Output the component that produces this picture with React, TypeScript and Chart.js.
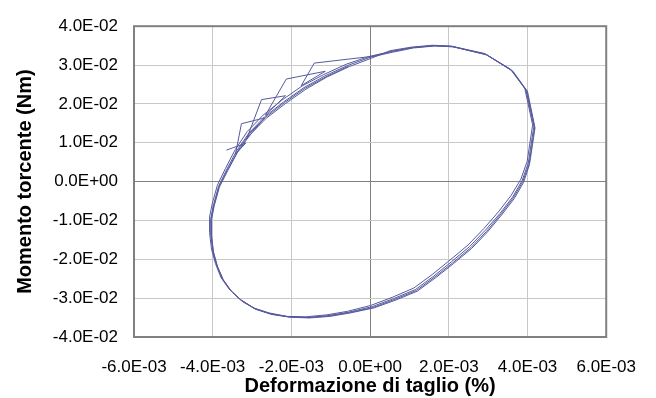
import React, { useEffect, useRef } from 'react';
import { Chart, registerables } from 'chart.js';

Chart.register(...registerables);

// Axis ranges / ticks
const xTicks = { min: -6.0e-3, max: 6.0e-3, step: 2.0e-3 };
const yTicks = { min: -4.0e-2, max: 4.0e-2, step: 1.0e-2 };

// Initial (irregular) part of the record
const startX = [-3.65e-3, -3.16e-3, -3.42e-3, -3.27e-3, -2.68e-3, -3.14e-3, -2.76e-3, -2.15e-3, -2.66e-3, -2.13e-3, -1.14e-3, -1.75e-3, -1.42e-3, 0.02e-3];
const startY = [0.81e-2, 0.99e-2, 0.71e-2, 1.49e-2, 1.64e-2, 1.09e-2, 2.11e-2, 2.21e-2, 1.71e-2, 2.64e-2, 2.84e-2, 2.47e-2, 3.05e-2, 3.22e-2];

// Cycle 1
const loop1X = [0.54e-3, 1.07e-3, 1.62e-3, 2.08e-3, 2.93e-3, 3.59e-3, 3.96e-3, 4.16e-3, 4.02e-3, 3.86e-3, 3.62e-3, 3.30e-3, 2.93e-3, 2.53e-3, 2.07e-3, 1.62e-3, 1.15e-3, 0.60e-3, 0.05e-3, -0.54e-3, -1.07e-3, -1.59e-3, -2.08e-3, -2.53e-3, -2.93e-3, -3.27e-3, -3.55e-3, -3.76e-3, -3.90e-3, -4.00e-3, -4.05e-3, -4.05e-3, -3.98e-3, -3.85e-3, -3.65e-3, -3.40e-3, -3.08e-3, -2.68e-3, -2.20e-3, -1.68e-3, -1.15e-3, -0.57e-3, 0.00e-3];
const loop1Y = [3.35e-2, 3.45e-2, 3.50e-2, 3.48e-2, 3.28e-2, 2.87e-2, 2.36e-2, 1.42e-2, 0.48e-2, 0.02e-2, -0.40e-2, -0.82e-2, -1.25e-2, -1.67e-2, -2.06e-2, -2.43e-2, -2.78e-2, -3.01e-2, -3.22e-2, -3.36e-2, -3.45e-2, -3.50e-2, -3.48e-2, -3.40e-2, -3.27e-2, -3.06e-2, -2.80e-2, -2.50e-2, -2.15e-2, -1.78e-2, -1.35e-2, -0.95e-2, -0.60e-2, -0.12e-2, 0.30e-2, 0.78e-2, 1.25e-2, 1.67e-2, 2.05e-2, 2.42e-2, 2.72e-2, 2.99e-2, 3.20e-2];

// Cycle 2
const loop2X = [0.57e-3, 1.10e-3, 1.65e-3, 2.12e-3, 2.97e-3, 3.63e-3, 4.00e-3, 4.19e-3, 4.05e-3, 3.90e-3, 3.66e-3, 3.34e-3, 2.98e-3, 2.58e-3, 2.12e-3, 1.67e-3, 1.20e-3, 0.65e-3, 0.10e-3, -0.50e-3, -1.03e-3, -1.55e-3, -2.04e-3, -2.50e-3, -2.90e-3, -3.24e-3, -3.52e-3, -3.73e-3, -3.88e-3, -3.98e-3, -4.03e-3, -4.03e-3, -3.96e-3, -3.83e-3, -3.62e-3, -3.37e-3, -3.04e-3, -2.64e-3, -2.15e-3, -1.63e-3, -1.10e-3, -0.53e-3, 0.04e-3];
const loop2Y = [3.33e-2, 3.44e-2, 3.49e-2, 3.47e-2, 3.26e-2, 2.84e-2, 2.32e-2, 1.38e-2, 0.44e-2, -0.02e-2, -0.44e-2, -0.86e-2, -1.30e-2, -1.72e-2, -2.11e-2, -2.47e-2, -2.82e-2, -3.05e-2, -3.25e-2, -3.38e-2, -3.47e-2, -3.51e-2, -3.49e-2, -3.42e-2, -3.29e-2, -3.09e-2, -2.83e-2, -2.53e-2, -2.18e-2, -1.81e-2, -1.38e-2, -0.98e-2, -0.62e-2, -0.14e-2, 0.28e-2, 0.75e-2, 1.22e-2, 1.63e-2, 2.01e-2, 2.38e-2, 2.69e-2, 2.96e-2, 3.18e-2];

// Cycle 3
const loop3X = [0.51e-3, 1.04e-3, 1.58e-3, 2.05e-3, 2.90e-3, 3.56e-3, 3.93e-3, 4.13e-3, 3.99e-3, 3.83e-3, 3.58e-3, 3.26e-3, 2.89e-3, 2.49e-3, 2.03e-3, 1.58e-3, 1.11e-3, 0.56e-3, 0.01e-3, -0.58e-3, -1.10e-3, -1.63e-3, -2.11e-3, -2.57e-3, -2.96e-3, -3.30e-3, -3.58e-3, -3.79e-3, -3.93e-3, -4.03e-3, -4.08e-3, -4.08e-3, -4.01e-3, -3.88e-3, -3.68e-3, -3.43e-3, -3.12e-3, -2.72e-3, -2.25e-3, -1.73e-3, -1.19e-3, -0.61e-3, -0.03e-3];
const loop3Y = [3.37e-2, 3.46e-2, 3.51e-2, 3.49e-2, 3.30e-2, 2.90e-2, 2.40e-2, 1.46e-2, 0.52e-2, 0.06e-2, -0.36e-2, -0.78e-2, -1.21e-2, -1.63e-2, -2.02e-2, -2.39e-2, -2.74e-2, -2.98e-2, -3.19e-2, -3.34e-2, -3.43e-2, -3.48e-2, -3.47e-2, -3.38e-2, -3.25e-2, -3.03e-2, -2.77e-2, -2.47e-2, -2.11e-2, -1.74e-2, -1.31e-2, -0.91e-2, -0.56e-2, -0.09e-2, 0.33e-2, 0.82e-2, 1.29e-2, 1.71e-2, 2.09e-2, 2.46e-2, 2.75e-2, 3.02e-2, 3.22e-2];

// Cycle 4
const loop4X = [0.55e-3, 1.08e-3, 1.63e-3, 2.10e-3, 2.95e-3, 3.61e-3, 3.98e-3, 4.18e-3, 4.04e-3, 3.88e-3, 3.64e-3, 3.32e-3, 2.96e-3, 2.56e-3, 2.10e-3, 1.65e-3, 1.18e-3, 0.63e-3, 0.08e-3, -0.52e-3, -1.05e-3, -1.57e-3, -2.06e-3, -2.51e-3, -2.91e-3, -3.25e-3, -3.53e-3, -3.74e-3, -3.89e-3, -3.99e-3, -4.04e-3, -4.04e-3, -3.97e-3, -3.84e-3, -3.63e-3, -3.38e-3, -3.06e-3, -2.66e-3, -2.18e-3, -1.66e-3, -1.12e-3, -0.55e-3];
const loop4Y = [3.35e-2, 3.45e-2, 3.50e-2, 3.47e-2, 3.27e-2, 2.85e-2, 2.34e-2, 1.40e-2, 0.46e-2, 0.00e-2, -0.42e-2, -0.84e-2, -1.28e-2, -1.70e-2, -2.09e-2, -2.45e-2, -2.80e-2, -3.03e-2, -3.24e-2, -3.37e-2, -3.46e-2, -3.50e-2, -3.48e-2, -3.41e-2, -3.28e-2, -3.08e-2, -2.82e-2, -2.52e-2, -2.17e-2, -1.80e-2, -1.37e-2, -0.97e-2, -0.61e-2, -0.13e-2, 0.29e-2, 0.76e-2, 1.24e-2, 1.65e-2, 2.03e-2, 2.40e-2, 2.70e-2, 2.97e-2];

const xTitle = 'Deformazione di taglio (%)';
const yTitle = 'Momento torcente (Nm)';

const FONT = "'Liberation Sans', Arial, Helvetica, sans-serif";

function fmtExp(v: number): string {
  if (Math.abs(v) < 1e-12) return '0.0E+00';
  let e = Math.floor(Math.log10(Math.abs(v)) + 1e-9);
  let m = v / Math.pow(10, e);
  if (Math.abs(Math.round(m * 10) / 10) >= 10) { e += 1; m = v / Math.pow(10, e); }
  return m.toFixed(1) + 'E' + (e < 0 ? '-' : '+') + String(Math.abs(e)).padStart(2, '0');
}

const framePlugin = {
  id: 'frame',
  afterDatasetsDraw(chart: any) {
    const { ctx, chartArea } = chart;
    const { left, top, right, bottom } = chartArea;
    ctx.save();
    ctx.strokeStyle = '#808080';
    ctx.lineWidth = 2;
    ctx.strokeRect(left, top, right - left, bottom - top);
    ctx.restore();
  },
};

export default function App() {
  const ref = useRef<HTMLCanvasElement | null>(null);

  useEffect(() => {
    if (!ref.current) return;
    const xs = [...startX, ...loop1X, ...loop2X, ...loop3X, ...loop4X];
    const ys = [...startY, ...loop1Y, ...loop2Y, ...loop3Y, ...loop4Y];
    const points = xs.map((x, i) => ({ x, y: ys[i] }));

    const gridColor = (c: any) =>
      c.tick && Math.abs(c.tick.value) < 1e-9 ? '#808080' : '#c8c8c8';

    const chart = new Chart(ref.current, {
      type: 'scatter',
      data: {
        datasets: [
          {
            data: points,
            showLine: true,
            borderColor: '#565a9e',
            borderWidth: 1,
            pointRadius: 0,
            tension: 0,
            fill: false,
          },
        ],
      },
      options: {
        animation: false,
        responsive: false,
        events: [],
        layout: { padding: { top: 18, right: 48, left: 0, bottom: 0 } },
        plugins: {
          legend: { display: false },
          tooltip: { enabled: false },
        },
        scales: {
          x: {
            type: 'linear',
            min: xTicks.min,
            max: xTicks.max,
            afterFit: (s: any) => { s.height = 61; },
            ticks: {
              stepSize: xTicks.step,
              autoSkip: false,
              maxRotation: 0,
              padding: 20,
              color: '#000',
              font: { family: FONT, size: 17 },
              callback: (v: any) => fmtExp(Number(v)),
            },
            grid: { color: gridColor, lineWidth: 1, drawTicks: false },
            border: { display: false },
            title: {
              display: true,
              text: xTitle,
              color: '#000',
              font: { family: FONT, size: 20, weight: 'bold' },
              padding: { top: 0, bottom: 0 },
            },
          },
          y: {
            type: 'linear',
            min: yTicks.min,
            max: yTicks.max,
            afterFit: (s: any) => { s.width = 134; },
            ticks: {
              stepSize: yTicks.step,
              autoSkip: false,
              padding: 16,
              color: '#000',
              font: { family: FONT, size: 17 },
              callback: (v: any) => fmtExp(Number(v)),
            },
            grid: { color: gridColor, lineWidth: 1, drawTicks: false },
            border: { display: false },
            title: {
              display: true,
              text: yTitle,
              color: '#000',
              font: { family: FONT, size: 20, weight: 'bold' },
              padding: { top: 13, bottom: 0 },
            },
          },
        },
      },
      plugins: [framePlugin],
    });
    return () => chart.destroy();
  }, []);

  return (
    <div style={{ position: 'absolute', left: 0, top: 0, width: 656, height: 398, background: '#fff' }}>
      <canvas ref={ref} width={656} height={398} style={{ display: 'block' }} />
    </div>
  );
}
